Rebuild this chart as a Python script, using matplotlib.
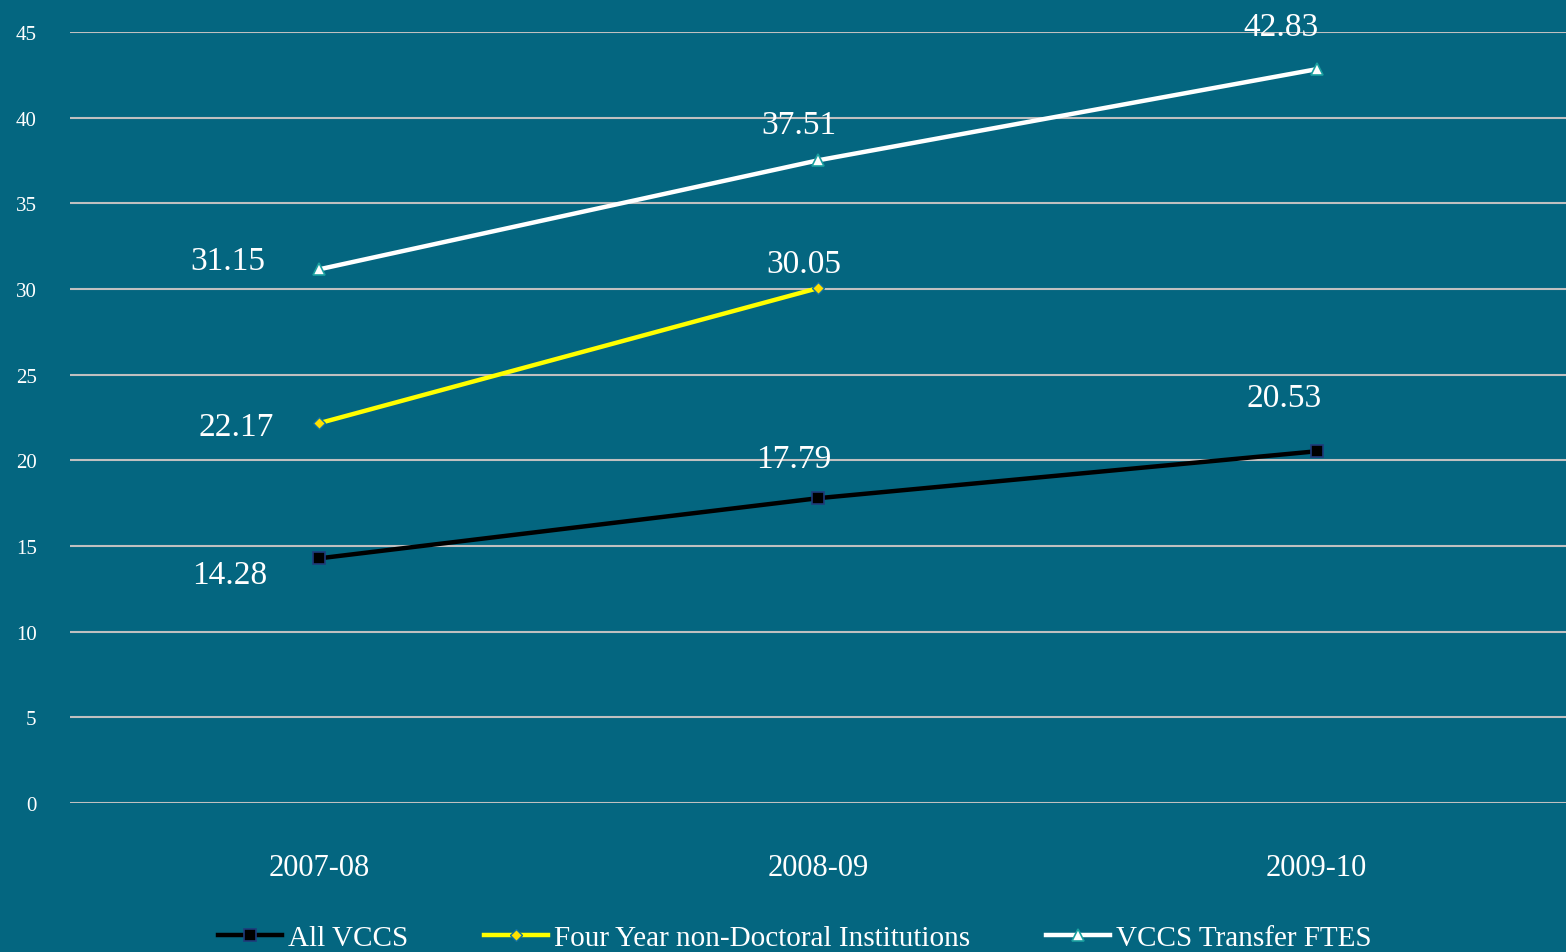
import matplotlib
matplotlib.use("Agg")
import matplotlib.pyplot as plt

# chart data
years = ["2007-08", "2008-09", "2009-10"]
all_vccs = [14.28, 17.79, 20.53]
four_year = [22.17, 30.05]
transfer_ftes = [31.15, 37.51, 42.83]
y_ticks = [0, 5, 10, 15, 20, 25, 30, 35, 40, 45]

bg = "#046680"
font = ["Liberation Serif", "DejaVu Serif"]
plt.rcParams["font.family"] = font

fig = plt.figure(figsize=(15.66, 9.53), dpi=100, facecolor=bg)
ax = fig.add_axes([70 / 1566, 149 / 953, 1496 / 1566, 771 / 953], facecolor=bg)

x = list(range(len(years)))

ax.plot(x, all_vccs, color="black", lw=3.2, marker="s", ms=8,
        mfc="black", mec="#1f3a7a", mew=1.2, label="All VCCS", zorder=3)
ax.plot(x[:len(four_year)], four_year, color="#ffff00", lw=3.2, marker="D", ms=6,
        mfc="#ffe000", mec="#1070a0", mew=1.0,
        label="Four Year non-Doctoral Institutions", zorder=3)
ax.plot(x, transfer_ftes, color="white", lw=3.2, marker="^", ms=8,
        mfc="white", mec="#1aa0a0", mew=1.2, label="VCCS Transfer FTES", zorder=3)

# data labels, offsets in pixels (label centre relative to point)
offsets = {
    "all": [(-90, -16), (-24, 39), (-33, 54)],
    "four": [(-83, -4), (-14, 24)],
    "ftes": [(-92, 9), (-19, 36), (-36, 42)],
}
for vals, key in [(all_vccs, "all"), (four_year, "four"), (transfer_ftes, "ftes")]:
    for i, v in enumerate(vals):
        ax.annotate(f"{v:.2f}", (i, v), xytext=offsets[key][i],
                    textcoords="offset pixels", ha="center", va="center",
                    color="white", fontsize=24)

ax.set_xlim(-0.5, 2.5)
ax.set_ylim(0, 45)
ax.set_yticks(y_ticks)
ax.set_xticks(x)
ax.set_xticklabels(years, fontsize=22, color="white")
ax.tick_params(axis="y", colors="white", labelsize=15, length=0, pad=24)
ax.tick_params(axis="x", length=0, pad=36)
ax.yaxis.grid(True, color="#c0c0c0", lw=1.5)
ax.set_axisbelow(True)
for s in ax.spines.values():
    s.set_visible(False)

leg = fig.legend(loc="center", bbox_to_anchor=(795 / 1566, 14 / 953), ncol=3,
                 frameon=False, fontsize=21, handlelength=2.2, handletextpad=0.2,
                 columnspacing=2.6, labelcolor="white")

fig.savefig("out.png", dpi=100, facecolor=bg)
